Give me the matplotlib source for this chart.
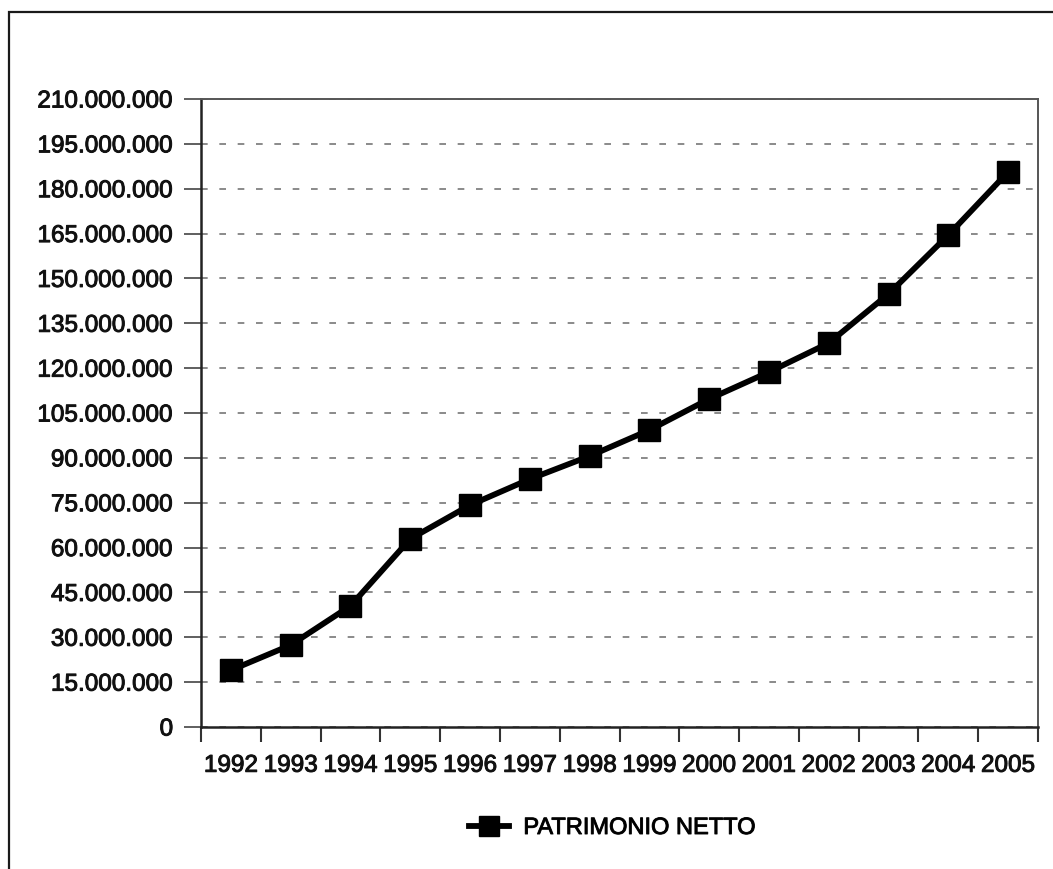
import matplotlib
matplotlib.use("Agg")
import matplotlib.pyplot as plt
import matplotlib.patheffects as pe
from matplotlib.patches import Rectangle
from matplotlib.ticker import FuncFormatter, FixedLocator
import numpy as np

plt.rcParams['font.family'] = ['Liberation Sans', 'DejaVu Sans']

years = ['1992', '1993', '1994', '1995', '1996', '1997', '1998',
         '1999', '2000', '2001', '2002', '2003', '2004', '2005']
patrimonio_netto = [19_000_000, 27_400_000, 40_500_000, 62_900_000,
                    74_200_000, 82_900_000, 90_600_000, 99_300_000,
                    109_700_000, 118_700_000, 128_400_000, 144_800_000,
                    164_500_000, 185_600_000]
y_ticks = list(range(0, 210_000_001, 15_000_000))
series_label = 'PATRIMONIO NETTO'

W, H = 1053, 870
fig = plt.figure(figsize=(W / 100, H / 100), dpi=100)
fig.patch.set_facecolor('white')

# outer frame around the whole chart
fig.patches.append(Rectangle((9 / W, -0.05), 1.2, 1 - 13 / H + 0.05,
                             transform=fig.transFigure, fill=False,
                             edgecolor='#1a1a1a', linewidth=1.6))

ax = fig.add_axes([201 / W, 1 - 728 / H, (1038 - 201) / W, (728 - 100) / H])
x = np.arange(len(years))

ax.plot(x, patrimonio_netto, color='black', linewidth=4.2, marker='s',
        markersize=16, markerfacecolor='black', markeredgecolor='black',
        label=series_label, zorder=3)

ax.set_xlim(-0.5, len(years) - 0.5)
ax.set_ylim(0, 210_000_000)

# y axis
ax.yaxis.set_major_locator(FixedLocator(y_ticks))
ax.yaxis.set_major_formatter(FuncFormatter(lambda v, p: f"{v:,.0f}".replace(",", ".")))
ax.tick_params(axis='y', which='major', direction='out', length=12, width=1.2,
               color='#444444', pad=8, labelsize=17.5, labelcolor='#111111')

# x axis: labels at category centres, ticks at category boundaries
ax.set_xticks(x)
ax.set_xticklabels(years)
ax.set_xticks(np.arange(-0.5, len(years), 1.0), minor=True)
ax.tick_params(axis='x', which='major', length=0, pad=20, labelsize=17.5,
               labelcolor='#111111')
ax.tick_params(axis='x', which='minor', direction='out', length=11, width=1.5,
               color='#333333')

# slightly heavier glyphs for the tick labels
heavy = [pe.withStroke(linewidth=0.7, foreground='#111111')]
for lbl in ax.get_xticklabels() + ax.get_yticklabels():
    lbl.set_path_effects(heavy)

# dashed horizontal grid
ax.yaxis.grid(True, linestyle=(0, (4, 7)), color='#777777', linewidth=1.2)
ax.set_axisbelow(True)

for side in ['left', 'bottom']:
    ax.spines[side].set_color('#222222')
    ax.spines[side].set_linewidth(1.8)
for side in ['top', 'right']:
    ax.spines[side].set_color('#555555')
    ax.spines[side].set_linewidth(1.4)

leg = fig.legend(loc='center', bbox_to_anchor=(612 / W, 1 - 829 / H), frameon=False,
                 fontsize=17, handlelength=1.7, handletextpad=0.6, markerscale=0.9)
for t in leg.get_texts():
    t.set_path_effects(heavy)

fig.savefig('out.png', dpi=100, facecolor='white')
